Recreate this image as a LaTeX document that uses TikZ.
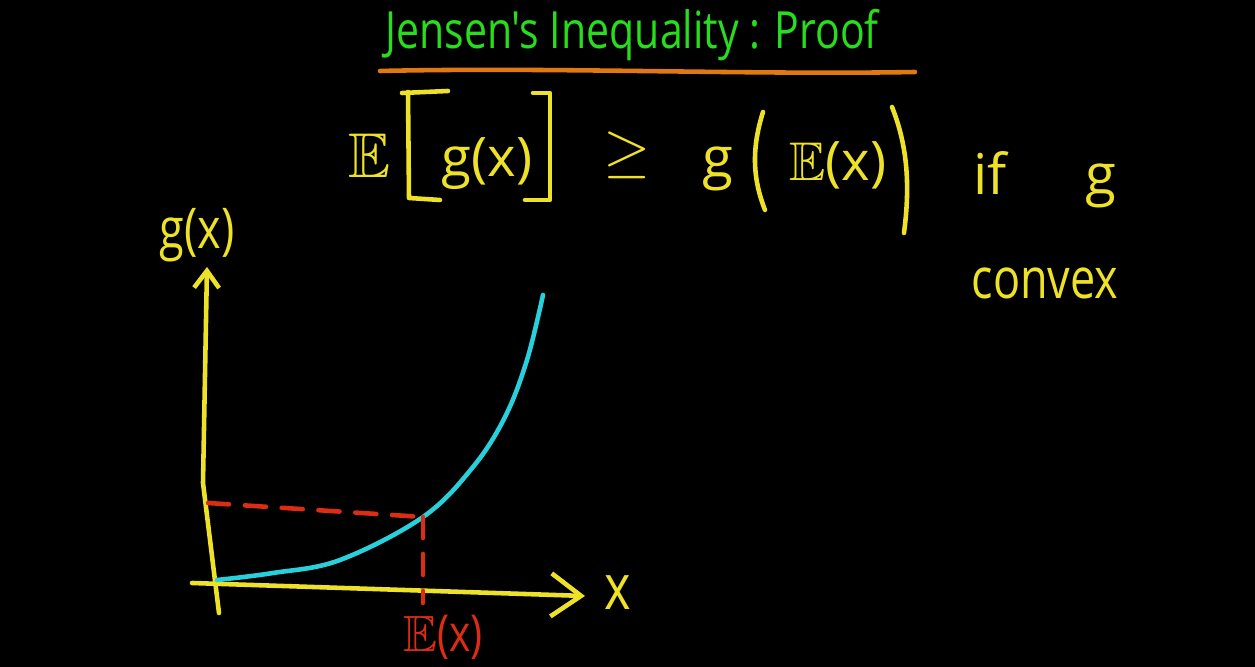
\documentclass[tikz,border=0pt]{standalone}
\usepackage{amsmath,amssymb}
\usepackage{fontspec}
\setmainfont{Open Sans}
\newfontfamily\handfont[FakeStretch=0.8]{Open Sans}
\newfontfamily\penfont{Open Sans}
\usetikzlibrary{arrows.meta,positioning}
\definecolor{penyellow}{RGB}{238,226,40}
\definecolor{pengreen}{RGB}{40,220,30}
\definecolor{penorange}{RGB}{225,120,20}
\definecolor{pencyan}{RGB}{40,208,220}
\definecolor{penred}{RGB}{220,45,20}

\begin{document}
\begin{tikzpicture}[line cap=round,line join=round,>={Straight Barb[length=3mm,width=4.3mm]},x=1.0cm,y=1.0cm,
  pen/.style={line width=1.3pt},
  reddash/.style={pen,color=penred,dash pattern=on 6pt off 4.5pt},
  handtext/.style={inner sep=0pt,font=\handfont\fontsize{#1}{#1}\selectfont},
  formtext/.style={inner sep=0pt,anchor=base,color=penyellow,font=\penfont\fontsize{#1}{#1}\selectfont}]
				\fill[black] (0.,0.) rectangle (12.55,6.67);
				\useasboundingbox (0.,0.) rectangle (12.55,6.67);
				% title and underline
				\node[handtext=14.6,color=pengreen] (title) at (6.32,6.32) {Jensen's Inequality : Proof};
				\coordinate (ulA) at (3.80,5.96);
				\coordinate (ulB) at (9.15,5.95);
				\draw [pen,color=penorange] (ulA) .. controls (5.5,6.00) and (7.5,5.92) .. (ulB);
				% the inequality, piece by piece
				\node[formtext=18] (Eleft) at (3.70,4.89) {$\mathbb{E}$};
				\node[formtext=15.5] (gx) at (4.87,4.90) {g(x)};
				\node[formtext=18,anchor=center] (geq) at (6.27,5.12) {$\geq$};
				\node[formtext=16] (gout) at (7.18,4.89) {g};
				\node[formtext=15.5] (Ex) at (8.38,4.86) {$\mathbb{E}$(x)};
				\node[formtext=16,anchor=base west] (ifg) at (9.73,4.72) {if\hspace{1.4em}g};
				\node[handtext=16,color=penyellow] (convex) at (10.45,3.84) {convex};
				% brackets and outer parentheses
				\draw [pen,color=penyellow] (4.48,5.76) -- (4.02,5.74);
				\draw [pen,color=penyellow] (4.08,5.75) -- (4.09,4.69) -- (4.40,4.67);
				\draw [pen,color=penyellow] (5.33,5.74) -- (5.50,5.74) -- (5.50,4.67) -- (5.25,4.67);
				\draw [pen,color=penyellow] (7.63,5.55) .. controls (7.52,5.20) and (7.52,4.90) .. (7.65,4.57);
				\draw [pen,color=penyellow] (8.92,5.60) .. controls (9.08,5.20) and (9.10,4.80) .. (9.04,4.34);
				% axes
				\coordinate (ybot) at (2.19,0.54);
				\coordinate (ybend) at (2.03,1.84);
				\coordinate (ytop) at (2.07,4.00);
				\coordinate (xleft) at (1.92,0.84);
				\coordinate (xright) at (5.85,0.71);
				\draw [pen,color=penyellow,-{Straight Barb[length=1.7mm,width=2.5mm]}] (ybot) -- (ybend) -- (ytop);
				\draw [pen,color=penyellow,->] (xleft) -- (xright);
				\node[handtext=16,color=penyellow] (glabel) at (1.97,4.32) {g(x)};
				\node[handtext=18,color=penyellow] (xlabel) at (6.18,0.74) {x};
				% convex curve
				\coordinate (P) at (4.23,1.50);
				\draw [pen,color=pencyan] plot[smooth,tension=0.6] coordinates {(2.17,0.87) (2.73,0.94) (3.40,1.07) (P) (4.73,2.00) (5.05,2.50) (5.27,3.07) (5.43,3.72)};
				% projections of E(x)
				\coordinate (Py) at (2.08,1.64);
				\coordinate (Px) at (4.23,0.64);
				\draw [reddash] (Py) -- (P);
				\draw [reddash] (P) -- (Px);
				\node[handtext=14.5,color=penred] (Elabel) at (4.43,0.30) {$\mathbb{E}$(x)};
			\end{tikzpicture}
\end{document}
